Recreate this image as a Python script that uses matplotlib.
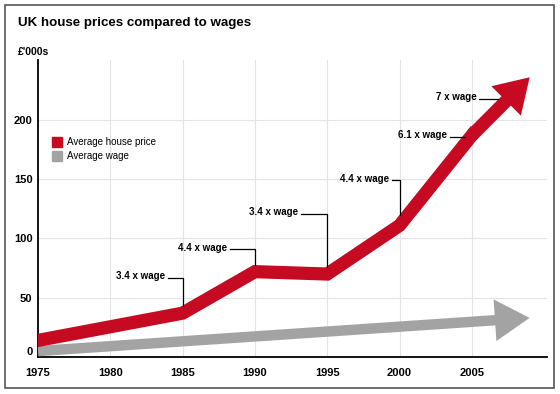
import matplotlib
matplotlib.use('Agg')
import matplotlib.pyplot as plt
from matplotlib.patches import FancyArrowPatch, Rectangle

# house price path (the last point is the arrow tip)
house_years = [1975, 1985, 1990, 1995, 2000, 2005, 2009]
house_prices = [14, 37, 72, 70, 111, 187, 236]

# average wage arrow (start, tip)
wage_years = [1975, 2009]
wage_values = [5, 33]

# "x wage" call-outs
label_text = ['3.4 x wage', '4.4 x wage', '3.4 x wage', '4.4 x wage', '6.1 x wage', '7 x wage']
label_start = [1984.0, 1988.3, 1993.2, 1999.5, 2003.5, 2005.5]   # where the leader begins
label_year = [1985, 1990, 1995, 2000, 2004.5, 2006.8]            # where it turns down
label_level = [67, 91, 121, 149, 186, 218]
label_end = [43, 78, 76, 120, 186, 218]

x_ticks = [1975, 1980, 1985, 1990, 1995, 2000, 2005]
y_ticks = [0, 50, 100, 150, 200]

red = '#c60a22'
grey = '#a3a3a3'

plt.rcParams['font.family'] = ['Liberation Sans', 'DejaVu Sans']

fig = plt.figure(figsize=(5.6, 3.94), dpi=100)
ax = fig.add_axes([38 / 560, 37 / 394, 509 / 560, 297 / 394])

ax.set_xlim(1975, 2010.2)
ax.set_ylim(0, 250.6)
ax.set_xticks(x_ticks)
ax.set_yticks(y_ticks)
ax.tick_params(length=0, labelsize=8)
ax.tick_params(axis='x', pad=8)
ax.tick_params(axis='y', pad=4)
for lab in ax.get_xticklabels() + ax.get_yticklabels():
    lab.set_fontweight('bold')
ax.get_yticklabels()[0].set_verticalalignment('bottom')
ax.grid(True, color='#e4e4e4', lw=0.8)
ax.set_axisbelow(True)
for s in ['top', 'right']:
    ax.spines[s].set_visible(False)
for s in ['left', 'bottom']:
    ax.spines[s].set_linewidth(1.3)

# wage arrow
wage_arrow = FancyArrowPatch((wage_years[0], wage_values[0]), (wage_years[1], wage_values[1]),
                             arrowstyle='simple,head_length=25,head_width=30,tail_width=7.5',
                             mutation_scale=1, color=grey, lw=0, zorder=3,
                             shrinkA=0, shrinkB=0)
ax.add_patch(wage_arrow)

# house price line + arrow head
ax.plot(house_years[:-1], house_prices[:-1], color=red, lw=9.5,
        solid_joinstyle='miter', solid_capstyle='projecting', zorder=4)
house_arrow = FancyArrowPatch((house_years[-2], house_prices[-2]), (house_years[-1], house_prices[-1]),
                              arrowstyle='simple,head_length=24,head_width=30,tail_width=9.5',
                              mutation_scale=1, color=red, lw=0, zorder=4,
                              shrinkA=0, shrinkB=0)
ax.add_patch(house_arrow)

# call-outs
for txt, x0, xy, lev, end in zip(label_text, label_start, label_year, label_level, label_end):
    ax.plot([x0, xy, xy], [lev, lev, end], color='black', lw=0.9, zorder=5)
    ax.annotate(txt, (x0, lev), xytext=(-2, 1), textcoords='offset points',
                ha='right', va='center', fontsize=7, fontweight='bold', zorder=6)

# legend
fig.patches.append(Rectangle((52 / 560, 1 - 147 / 394), 10 / 560, 10 / 394,
                             transform=fig.transFigure, color=red))
fig.patches.append(Rectangle((52 / 560, 1 - 161 / 394), 10 / 560, 10 / 394,
                             transform=fig.transFigure, color=grey))
fig.text(67 / 560, 1 - 142 / 394, 'Average house price', fontsize=7, va='center')
fig.text(67 / 560, 1 - 156 / 394, 'Average wage', fontsize=7, va='center')

fig.text(18 / 560, 1 - 23 / 394, 'UK house prices compared to wages',
         fontsize=9.6, fontweight='bold', va='center')
fig.text(18 / 560, 1 - 52 / 394, "£'000s", fontsize=7.5, fontweight='bold', va='center')

# frame around the graphic
fig.patches.append(Rectangle((5 / 560, 6 / 394), 549 / 560, 383 / 394,
                             transform=fig.transFigure, fill=False,
                             edgecolor='#555555', lw=1.2))

fig.savefig('out.png', dpi=100)
